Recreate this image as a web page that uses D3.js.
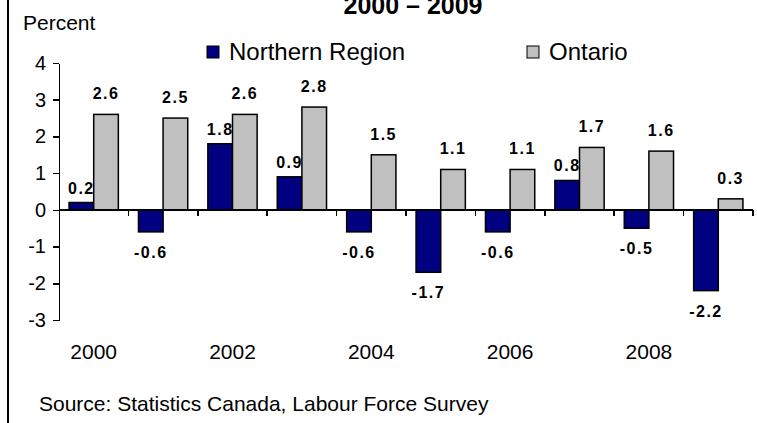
<!DOCTYPE html>
<meta charset="utf-8">
<style>
body { margin: 0; background: #fff; }
text { font-family: "Liberation Sans", Arial, sans-serif; fill: #000; }
.axis path, .axis line { stroke: #000; stroke-width: 1.5px; shape-rendering: crispEdges; }
.val { font-weight: bold; font-size: 16px; letter-spacing: 1.5px; }
</style>
<svg width="757" height="423"></svg>
<script src="https://d3js.org/d3.v7.min.js"></script>
<script>
var years = [2000, 2001, 2002, 2003, 2004, 2005, 2006, 2007, 2008, 2009];
var northern = [0.2, -0.6, 1.8, 0.9, -0.6, -1.7, -0.6, 0.8, -0.5, -2.2];
var ontario = [2.6, 2.5, 2.6, 2.8, 1.5, 1.1, 1.1, 1.7, 1.6, 0.3];
var seriesNames = ["Northern Region", "Ontario"];
var seriesColors = ["#000080", "#C0C0C0"];
var yTicks = [-3, -2, -1, 0, 1, 2, 3, 4];
var yearLabels = [2000, 2002, 2004, 2006, 2008];

var svg = d3.select("svg");

// plain hyphen for negatives, like the original
var fmt1 = function(v) { return d3.format(".1f")(v).replace("\u2212", "-"); };
var fmt0 = function(v) { return d3.format("d")(v).replace("\u2212", "-"); };

var x = d3.scaleBand().domain(years).range([59, 753]);
var bw = x.bandwidth();
var x1 = d3.scaleBand().domain([0, 1]).range([bw * 0.145, bw * 0.855]);
var y = d3.scaleLinear().domain([-3, 4]).range([320, 63]);

// frame line on the left
svg.append("line")
    .attr("x1", 8).attr("x2", 8).attr("y1", 0).attr("y2", 423)
    .attr("stroke", "#000").attr("stroke-width", 2);

// title (cut off at the top in the original)
svg.append("text")
    .attr("x", 413).attr("y", 14)
    .attr("text-anchor", "middle")
    .style("font-weight", "bold").style("font-size", "25px")
    .text("2000 \u2013 2009");

svg.append("text")
    .attr("x", 23).attr("y", 30)
    .style("font-size", "21px")
    .text("Percent");

// legend
var legendX = [207, 527];
seriesNames.forEach(function(name, i) {
  svg.append("rect")
      .attr("x", legendX[i]).attr("y", 46)
      .attr("width", 12).attr("height", 12)
      .attr("fill", seriesColors[i]).attr("stroke", "#000").attr("stroke-width", 1);
  svg.append("text")
      .attr("x", legendX[i] + 22).attr("y", 60)
      .style("font-size", "24px")
      .text(name);
});

// y axis
var yAxis = svg.append("g")
    .attr("class", "axis")
    .attr("transform", "translate(59,0)")
    .call(d3.axisLeft(y).tickValues(yTicks).tickSize(6).tickSizeOuter(0).tickPadding(7)
      .tickFormat(fmt0));
yAxis.selectAll("text").style("font-size", "20px");

// bars
var data = years.map(function(yr, i) { return {year: yr, vals: [northern[i], ontario[i]]}; });

var groups = svg.selectAll(".grp")
    .data(data)
  .enter().append("g")
    .attr("class", "grp")
    .attr("transform", function(d) { return "translate(" + x(d.year) + ",0)"; });

groups.selectAll("rect")
    .data(function(d) { return d.vals.map(function(v, i) { return {v: v, s: i}; }); })
  .enter().append("rect")
    .attr("x", function(d) { return x1(d.s); })
    .attr("width", x1.bandwidth())
    .attr("y", function(d) { return y(Math.max(0, d.v)); })
    .attr("height", function(d) { return Math.abs(y(d.v) - y(0)); })
    .attr("fill", function(d) { return seriesColors[d.s]; })
    .attr("stroke", "#000").attr("stroke-width", 1.5);

groups.selectAll(".val")
    .data(function(d) { return d.vals.map(function(v, i) { return {v: v, s: i}; }); })
  .enter().append("text")
    .attr("class", "val")
    .attr("text-anchor", "middle")
    .attr("x", function(d) { return x1(d.s) + x1.bandwidth() / 2; })
    .attr("y", function(d) {
      if (d.v < 0) return y(d.v) + 26;
      return y(d.v) - (d.s === 0 ? 9 : 15);
    })
    .text(function(d) { return fmt1(d.v); });

// x axis at zero
var xAxis = svg.append("g")
    .attr("class", "axis")
    .attr("transform", "translate(0," + y(0) + ")");
xAxis.append("line")
    .attr("x1", 59).attr("x2", 753);
xAxis.selectAll(".tk")
    .data(years)
  .enter().append("line")
    .attr("class", "tk")
    .attr("x1", function(d) { return x(d) + bw; })
    .attr("x2", function(d) { return x(d) + bw; })
    .attr("y1", 0).attr("y2", 6);

svg.selectAll(".yr")
    .data(yearLabels)
  .enter().append("text")
    .attr("class", "yr")
    .attr("x", function(d) { return x(d) + bw / 2; })
    .attr("y", 359)
    .attr("text-anchor", "middle")
    .style("font-size", "21px")
    .text(function(d) { return d; });

svg.append("text")
    .attr("x", 39).attr("y", 411)
    .style("font-size", "21px")
    .text("Source: Statistics Canada, Labour Force Survey");
</script>
